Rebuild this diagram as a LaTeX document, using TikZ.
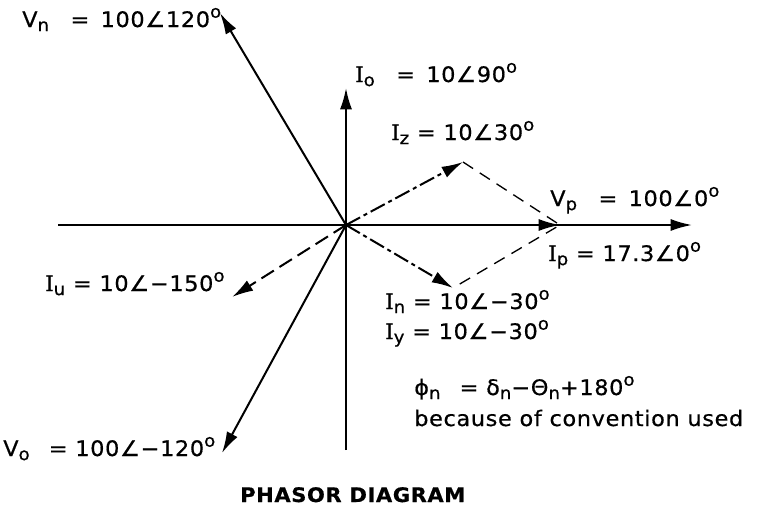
\documentclass[tikz,border=0pt]{standalone}
\usepackage{fontspec}
\setmainfont{DejaVu Sans}[FakeStretch=1.05,LetterSpace=3,FakeBold=0.6]
\newfontfamily\serI{DejaVu Serif}[FakeBold=0.6]
\usetikzlibrary{arrows.meta}
\newcommand{\Isym}{{\serI I}}
\newcommand{\mysb}[1]{\raisebox{-0.35ex}{\fontsize{13}{13}\selectfont #1}}
\newcommand{\mysp}[1]{\raisebox{0.8ex}{\fontsize{13}{13}\selectfont #1}}
\newcommand{\ang}{∠}
\tikzset{
  lbl/.style={font=\fontsize{16}{19}\selectfont, inner sep=0pt, anchor=base west, text=black},
  vec/.style={line width=1.5pt, -{Latex[length=16pt,width=9pt]}},
  axisline/.style={line width=1.2pt},
  dd/.style={dash pattern=on 12pt off 3pt on 3pt off 3pt},
  ld/.style={dash pattern=on 11pt off 5pt},
  helper/.style={line width=1pt, dash pattern=on 9pt off 6pt},
}
\begin{document}
\begin{tikzpicture}[x=0.75pt,y=-0.75pt]
\useasboundingbox (0,0) rectangle (757,515);
\coordinate (O) at (346,225);
\coordinate (L) at (58,225);
\coordinate (R) at (692,225);
\coordinate (B) at (346,450);
\coordinate (T) at (346,88);
\coordinate (Vn) at (220,13);
\coordinate (Vo) at (222,453);
\coordinate (Iz) at (463,162);
\coordinate (In) at (453,288);
\coordinate (Ip) at (560,225);
\coordinate (Iu) at (232,297);

% axes
\draw[axisline] (L) -- (O);
\draw[vec] (O) -- (R);
\draw[axisline] (B) -- (O);
\draw[vec] (O) -- (T);
% voltage phasors
\draw[vec] (O) -- (Vn);
\draw[vec] (O) -- (Vo);
% current phasors
\draw[vec, dd] (O) -- (Iz);
\draw[vec, dd] (O) -- (In);
\draw[vec, ld] (O) -- (Iu);
\draw[vec] (O) -- (Ip);
% construction lines
\draw[helper] (Iz) -- (Ip) -- (In);

% labels
\node[lbl] (tVn) at (22,27) {V\mysb{n} \; = \,100\ang120\mysp{o}};
\node[lbl] (tIo) at (355,82) {\Isym\mysb{o} \; = \,10\ang90\mysp{o}};
\node[lbl] (tIz) at (391,140) {\Isym\mysb{z} = 10\ang30\mysp{o}};
\node[lbl] (tVp) at (550,206) {V\mysb{p} \; = \,100\ang0\mysp{o}};
\node[lbl] (tIp) at (548,261) {\Isym\mysb{p} = 17.3\ang0\mysp{o}};
\node[lbl] (tIu) at (45,291) {\Isym\mysb{u} = 10\ang−150\mysp{o}};
\node[lbl] (tIn) at (385,309) {\Isym\mysb{n} = 10\ang−30\mysp{o}};
\node[lbl] (tIy) at (385,339) {\Isym\mysb{y} = 10\ang−30\mysp{o}};
\node[lbl] (tphi) at (414,395) {ϕ\mysb{n} \, = δ\mysb{n}−Θ\mysb{n}+180\mysp{o}};
\node[lbl] (tbec) at (414,426) {because of convention used};
\node[lbl] (tVo) at (3,456) {V\mysb{o} \, = 100\ang−120\mysp{o}};
\node[lbl, font=\fontsize{15}{18}\selectfont\bfseries] (title) at (240,502) {PHASOR DIAGRAM};
\end{tikzpicture}
\end{document}
